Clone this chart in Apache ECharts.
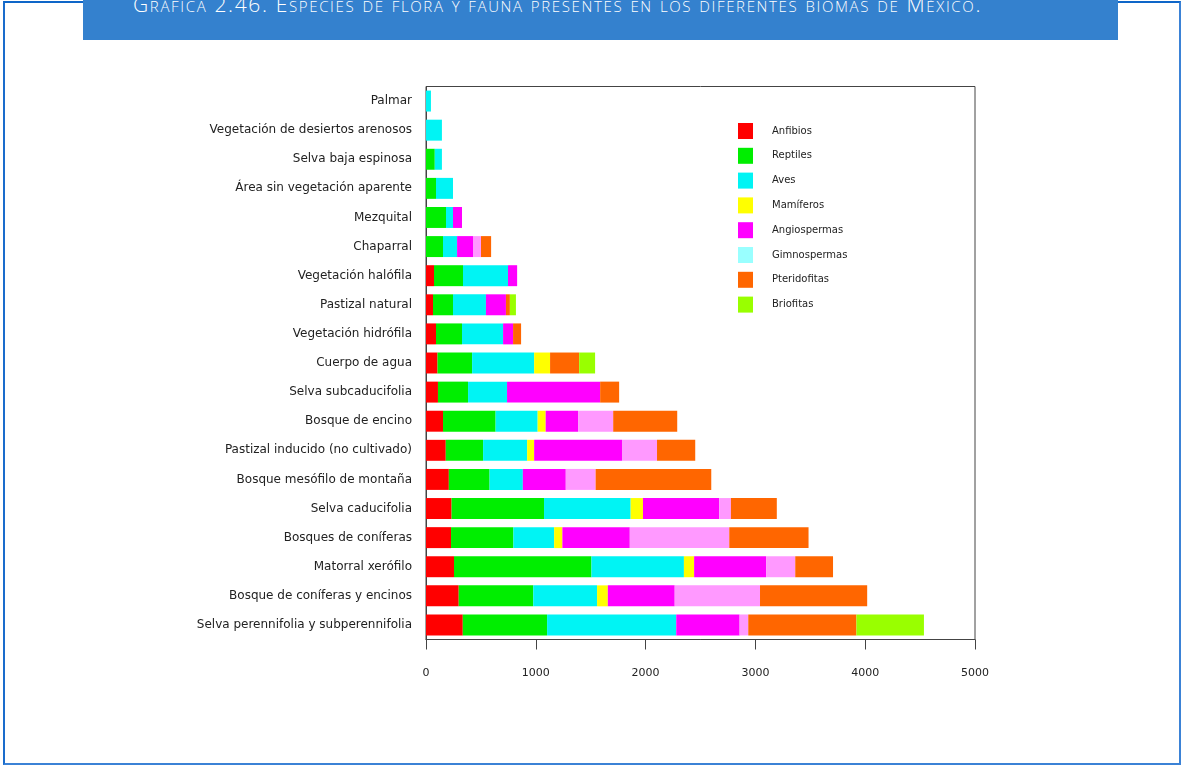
<!DOCTYPE html>
<html>
<head>
<meta charset="utf-8">
<script src="https://cdn.jsdelivr.net/npm/echarts@6/dist/echarts.min.js"></script>
<style>
html,body{margin:0;padding:0;background:#fff;width:1183px;height:767px;overflow:hidden;}
#frame{position:absolute;left:3px;top:1px;width:1174px;height:760px;border:2px solid #3b82d6;border-top-color:#0e66c8;border-left-color:#1a6ccc;}
#bar{position:absolute;left:83px;top:0;width:1035px;height:40px;background:#3481ce;}
#title{position:absolute;left:133px;top:-7px;font-family:"Open Sans",sans-serif;font-weight:300;font-variant:small-caps;font-size:21px;letter-spacing:1.65px;color:#fff;white-space:nowrap;line-height:22px;}
#chart{position:absolute;left:0;top:0;width:1183px;height:767px;}
</style>
</head>
<body>
<div id="frame"></div>
<div id="bar"></div>
<div id="title">Gráfica 2.46. Especies de flora y fauna presentes en los diferentes biomas de México.</div>
<div id="chart"></div>
<script>
const categories = [
  'Palmar',
  'Vegetación de desiertos arenosos',
  'Selva baja espinosa',
  'Área sin vegetación aparente',
  'Mezquital',
  'Chaparral',
  'Vegetación halófila',
  'Pastizal natural',
  'Vegetación hidrófila',
  'Cuerpo de agua',
  'Selva subcaducifolia',
  'Bosque de encino',
  'Pastizal inducido (no cultivado)',
  'Bosque mesófilo de montaña',
  'Selva caducifolia',
  'Bosques de coníferas',
  'Matorral xerófilo',
  'Bosque de coníferas y encinos',
  'Selva perennifolia y subperennifolia'
];
const seriesNames = ['Anfibios','Reptiles','Aves','Mamíferos','Angiospermas','Gimnospermas','Pteridofitas','Briofitas'];
const anfibios     = [0,0,0,0,0,0,73,64,91,105,109,155,180,208,233,228,255,298,335];
const reptiles     = [0,0,80,91,182,155,264,182,237,315,274,479,340,371,842,568,1252,679,768];
const aves         = [45,145,65,155,64,128,410,300,374,565,355,383,401,303,789,371,842,581,1176];
const mamiferos    = [0,0,0,0,0,0,0,0,0,145,0,73,64,0,112,75,93,98,0];
const angiospermas = [0,0,0,0,82,145,83,182,91,0,848,295,800,391,694,614,656,609,577];
const gimnospermas = [0,0,0,0,0,73,0,0,0,0,0,320,319,272,107,906,265,777,79];
const pteridofitas = [0,0,0,0,0,92,0,36,73,265,173,583,348,1053,418,722,344,976,985];
const briofitas    = [0,0,0,0,0,0,0,55,0,145,0,0,0,0,0,0,0,0,615];
const xTicks = [0,1000,2000,3000,4000,5000];

const values = [anfibios,reptiles,aves,mamiferos,angiospermas,gimnospermas,pteridofitas,briofitas];
const barColors = ['#ff0000','#00ee00','#00f4f4','#ffff00','#ff00ff','#ff99ff','#ff6600','#99ff00'];
const legendColors = ['#ff0000','#00ee00','#00f4f4','#ffff00','#ff00ff','#99ffff','#ff6600','#99ff00'];

const chart = echarts.init(document.getElementById('chart'));
const font = 'DejaVu Sans, Liberation Sans, Arial, sans-serif';
chart.setOption({
  animation:false,
  backgroundColor:'transparent',
  grid:{left:426,right:208,top:86.5,bottom:127.5,show:true,borderColor:'#444',borderWidth:1,containLabel:false},
  legend:{
    orient:'vertical',left:738,top:123,padding:0,itemWidth:15,itemHeight:16,itemGap:8.8,
    icon:'rect',
    textStyle:{fontFamily:font,fontSize:10,color:'#222',padding:[0,0,0,14]},
    data:seriesNames.map((n,i)=>({name:n,itemStyle:{color:legendColors[i]}}))
  },
  xAxis:{
    type:'value',min:xTicks[0],max:xTicks[xTicks.length-1],interval:1000,
    axisLine:{show:true,lineStyle:{color:'#444'}},
    axisTick:{show:true,length:10,lineStyle:{color:'#444'}},
    axisLabel:{fontFamily:font,fontSize:11,color:'#222',margin:28,
      formatter:v=>xTicks.includes(v)?String(v):''},
    splitLine:{show:false}
  },
  yAxis:{
    type:'category',data:categories,inverse:true,
    axisLine:{show:true,lineStyle:{color:'#444'}},
    axisTick:{show:false},
    axisLabel:{fontFamily:font,fontSize:12,color:'#222',margin:14}
  },
  series:seriesNames.map((n,i)=>({
    name:n,type:'bar',stack:'total',barWidth:'72%',
    itemStyle:{color:barColors[i]},
    data:values[i]
  }))
});
</script>
</body>
</html>
